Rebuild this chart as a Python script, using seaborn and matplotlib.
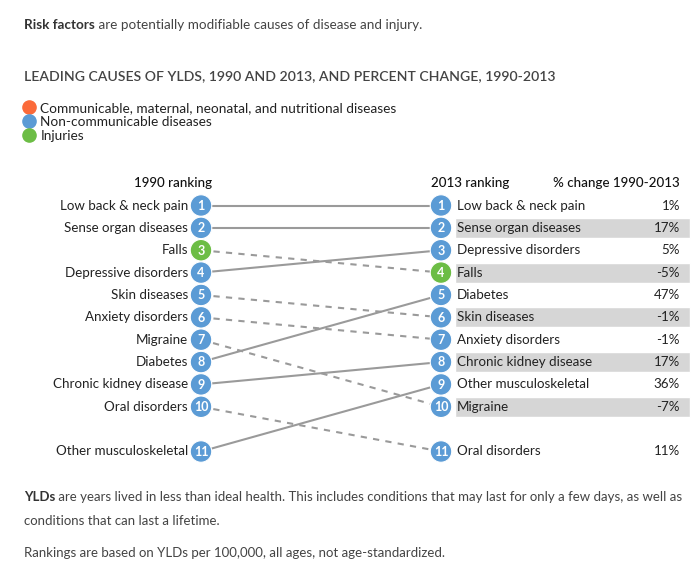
import numpy as np
import pandas as pd
import matplotlib
matplotlib.use("Agg")
import matplotlib.pyplot as plt
from matplotlib.lines import Line2D
import seaborn as sns

# Chart data
causes_1990 = ["Low back & neck pain", "Sense organ diseases", "Falls",
               "Depressive disorders", "Skin diseases", "Anxiety disorders",
               "Migraine", "Diabetes", "Chronic kidney disease",
               "Oral disorders", "Other musculoskeletal"]
rank_1990 = [1, 2, 3, 4, 5, 6, 7, 8, 9, 10, 11]
rank_2013 = [1, 2, 4, 3, 6, 7, 10, 5, 8, 11, 9]
cause_group = ["Non-communicable diseases"] * 11
cause_group[2] = "Injuries"
# percent change listed in 2013 ranking order
pct_change_2013_order = [1, 17, 5, -5, 47, -1, -1, 17, 36, -7, 11]

groups = ["Communicable, maternal, neonatal, and nutritional diseases",
          "Non-communicable diseases", "Injuries"]
group_colors = ["#fb6a3a", "#5b9bd5", "#6cbd45"]
palette = dict(zip(groups, group_colors))

# rank 11 is drawn a step lower, after a gap
def slot(r):
    return r if r <= 10 else r + 1

rows = []
for name, r0, r1, g in zip(causes_1990, rank_1990, rank_2013, cause_group):
    direction = "up" if r1 <= r0 else "down"
    rows.append(dict(cause=name, year=0, rank=r0, pos=slot(r0), group=g, direction=direction))
    rows.append(dict(cause=name, year=1, rank=r1, pos=slot(r1), group=g, direction=direction))
df = pd.DataFrame(rows)

sns.set_theme(style="white")
plt.rcParams["font.family"] = ["Lato", "DejaVu Sans"]

W, H = 700, 577
fig = plt.figure(figsize=(W / 100, H / 100), dpi=100)

# chart axes: x=0 is 1990 column, x=1 is 2013 column
px_left, px_right = 201, 441
row_px = 22.36
top_px = 205.5 - 0.5 * row_px
bot_px = 451.5 + 0.5 * row_px
ax = fig.add_axes([px_left / W, 1 - bot_px / H, (px_right - px_left) / W, (bot_px - top_px) / H])
dx = 1 / (px_right - px_left)  # one pixel in x data units

# shaded rows in the 2013 table
shade = df[(df.year == 1) & (df["rank"] % 2 == 0)]
ax.barh(shade["pos"], width=(690 - 455) * dx, left=(455 - px_left) * dx,
        height=0.9, color="#d6d6d6", zorder=0, clip_on=False)

sns.lineplot(data=df, x="year", y="pos", units="cause", estimator=None,
             style="direction", dashes={"up": "", "down": (3, 3)},
             color="#9a9a9a", linewidth=1.5, legend=False, ax=ax, zorder=1)

sns.scatterplot(data=df, x="year", y="pos", hue="group", palette=palette,
                s=240, edgecolor="white", linewidth=0.8, legend=False,
                ax=ax, zorder=3)
for c in ax.collections:
    c.set_clip_on(False)
ax.set_xlim(0, 1)
ax.set_ylim(12.5, 0.5)
ax.axis("off")

for _, r in df.iterrows():
    ax.text(r["year"], r["pos"] + 0.02, str(r["rank"]), color="white",
            fontsize=9, fontweight="bold", ha="center", va="center", zorder=4)

left = df[df.year == 0]
for _, r in left.iterrows():
    ax.text(-13 * dx, r["pos"], r["cause"], ha="right", va="center",
            fontsize=9.6, color="#222222")

right = df[df.year == 1].sort_values("rank")
for (_, r), pct in zip(right.iterrows(), pct_change_2013_order):
    ax.text((457 - px_left) * dx, r["pos"], r["cause"], ha="left", va="center",
            fontsize=9.6, color="#222222")
    ax.text((680 - px_left) * dx, r["pos"], f"{pct}%", ha="right", va="center",
            fontsize=9.6, color="#222222")

head_y = 1 + (183 - 205.5) / row_px
ax.text((212 - px_left) * dx, head_y, "1990 ranking", ha="right", va="center",
        fontsize=9.6, color="#111111", fontweight="medium")
ax.text((431 - px_left) * dx, head_y, "2013 ranking", ha="left", va="center",
        fontsize=9.6, color="#111111", fontweight="medium")
ax.text((680 - px_left) * dx, head_y, "% change 1990-2013", ha="right", va="center",
        fontsize=9.6, color="#111111", fontweight="medium")

# paragraphs with a bold lead word
renderer = fig.canvas.get_renderer()
def lead_text(x_px, y_px, bold, rest, size=9.5, color="#444444"):
    t = fig.text(x_px / W, 1 - y_px / H, bold, fontsize=size, fontweight="bold",
                 color="#333333", va="center", ha="left")
    bb = t.get_window_extent(renderer=renderer)
    fig.text(bb.x1 / W, 1 - y_px / H, rest, fontsize=size, color=color,
             va="center", ha="left")

lead_text(24, 25, "Risk factors", " are potentially modifiable causes of disease and injury.", size=9.75)
fig.text(24 / W, 1 - 76 / H, "LEADING CAUSES OF YLDS, 1990 AND 2013, AND PERCENT CHANGE, 1990-2013",
         fontsize=10.1, color="#444444", fontweight="semibold", va="center")

handles = [Line2D([], [], marker="o", linestyle="", markersize=9.5,
                  markerfacecolor=c, markeredgecolor=c) for c in group_colors]
fig.legend(handles, groups, loc="upper left", bbox_to_anchor=(22 / W, 1 - 102 / H),
           frameon=False, fontsize=9.8, handletextpad=0.35, labelspacing=0.14,
           borderpad=0, borderaxespad=0, handlelength=1.0, labelcolor="#222222")

lead_text(24, 497, "YLDs", " are years lived in less than ideal health. This includes conditions "
          "that may last for only a few days, as well as")
fig.text(24 / W, 1 - 521 / H, "conditions that can last a lifetime.", fontsize=9.5,
         color="#444444", va="center")
fig.text(24 / W, 1 - 553 / H, "Rankings are based on YLDs per 100,000, all ages, not age-standardized.",
         fontsize=9.5, color="#444444", va="center")

fig.savefig("out.png", dpi=100, facecolor="white")
